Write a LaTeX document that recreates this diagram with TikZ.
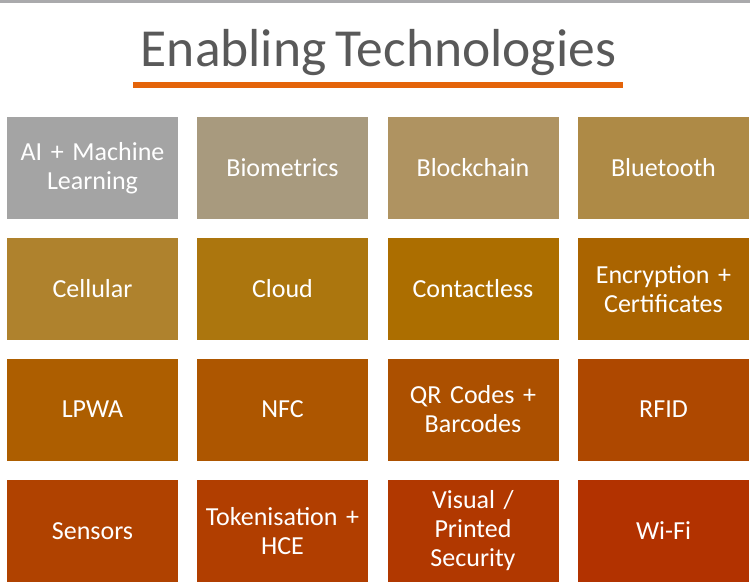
\documentclass[tikz,border=0pt]{standalone}
\usepackage{fontspec}
\setmainfont[WordSpace=0.75]{Carlito}
\definecolor{titlegray}{RGB}{89,89,89}
\definecolor{topline}{RGB}{170,170,172}
\definecolor{uline}{RGB}{228,100,10}
\definecolor{cA}{RGB}{164,164,164}
\definecolor{cB}{RGB}{168,154,126}
\definecolor{cC}{RGB}{175,147,97}
\definecolor{cD}{RGB}{174,138,70}
\definecolor{cE}{RGB}{175,130,45}
\definecolor{cF}{RGB}{172,118,14}
\definecolor{cG}{RGB}{172,110,0}
\definecolor{cH}{RGB}{170,100,0}
\definecolor{cI}{RGB}{173,94,0}
\definecolor{cJ}{RGB}{173,86,0}
\definecolor{cK}{RGB}{172,80,0}
\definecolor{cL}{RGB}{174,72,0}
\definecolor{cM}{RGB}{176,66,0}
\definecolor{cN}{RGB}{177,62,0}
\definecolor{cO}{RGB}{177,56,0}
\definecolor{cP}{RGB}{178,50,0}
\begin{document}
\begin{tikzpicture}[x=1pt,y=-1pt,
  tile/.style={rectangle, minimum width=171pt, minimum height=102pt, inner sep=2pt,
    text=white, align=center, text width=167pt,
    font=\fontsize{26}{29}\selectfont}]
\useasboundingbox (0,0) rectangle (750,582);
\fill[white] (0,0) rectangle (750,582);
\fill[topline] (0,0) rectangle (750,3);
\node[text=titlegray, font=\fontsize{53.5}{64}\selectfont, anchor=base, inner sep=0pt] (title) at (378.5,66) {Enabling Technologies};
\fill[uline] (133,82) rectangle (623,88);
% row 1
\node[tile, fill=cA] (ai) at (92.5,168) {AI + Machine\\Learning};
\node[tile, fill=cB] (bio) at (282.5,168) {Biometrics};
\node[tile, fill=cC] (block) at (473,168) {Blockchain};
\node[tile, fill=cD] (blue) at (663.5,168) {Bluetooth};
% row 2
\node[tile, fill=cE] (cell) at (92.5,289) {Cellular};
\node[tile, fill=cF] (cloud) at (282.5,289) {Cloud};
\node[tile, fill=cG] (contact) at (473,289) {Contactless};
\node[tile, fill=cH] (enc) at (663.5,289) {Encryption +\\Certificates};
% row 3
\node[tile, fill=cI] (lpwa) at (92.5,409.5) {LPWA};
\node[tile, fill=cJ] (nfc) at (282.5,409.5) {NFC};
\node[tile, fill=cK] (qr) at (473,409.5) {QR Codes +\\Barcodes};
\node[tile, fill=cL] (rfid) at (663.5,409.5) {RFID};
% row 4
\node[tile, fill=cM] (sens) at (92.5,531) {Sensors};
\node[tile, fill=cN] (tok) at (282.5,531) {Tokenisation +\\HCE};
\node[tile, fill=cO] (vis) at (473,531) {Visual /\\Printed\\Security};
\node[tile, fill=cP] (wifi) at (663.5,531) {Wi-Fi};
\end{tikzpicture}
\end{document}
